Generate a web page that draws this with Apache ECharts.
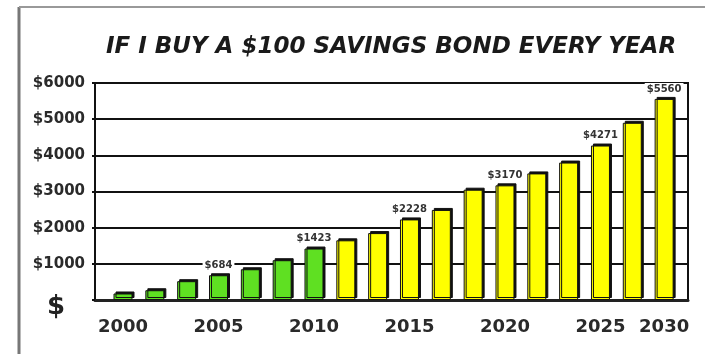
<!DOCTYPE html>
<html>
<head>
<meta charset="utf-8">
<script src="https://cdn.jsdelivr.net/npm/echarts@6/dist/echarts.min.js"></script>
<style>
html,body{margin:0;padding:0;background:#fff;}
#chart{width:712px;height:354px;}
</style>
</head>
<body>
<div id="chart"></div>
<script>
// Data
const titleText = 'IF I BUY A $100 SAVINGS BOND EVERY YEAR';
const barValues = [180, 270, 520, 684, 850, 1100, 1423, 1650, 1850, 2228, 2490, 3050, 3170, 3500, 3800, 4271, 4900, 5560];
const greenCount = 7;
const tickIndex = [0, 3, 6, 9, 12, 15, 17];
const tickLabels = ['2000', '2005', '2010', '2015', '2020', '2025', '2030'];
const labeledIndex = [3, 6, 9, 12, 15, 17];

const GREEN = '#5fe022';
const YELLOW = '#ffff00';

const chart = echarts.init(document.getElementById('chart'));

const seriesData = barValues.map(function (v, i) {
  const item = {
    value: [i, v],
    itemStyle: { color: i < greenCount ? GREEN : YELLOW }
  };
  if (labeledIndex.indexOf(i) >= 0) {
    item.label = { show: true };
  }
  return item;
});

chart.setOption({
  backgroundColor: '#fff',
  animation: false,
  title: {
    text: titleText,
    left: 386,
    top: 31,
    textAlign: 'center',
    textStyle: {
      fontFamily: 'DejaVu Sans',
      fontStyle: 'italic',
      fontWeight: 'bold',
      fontSize: 23,
      color: '#1a1a1a'
    }
  },
  graphic: [
    { type: 'line', shape: { x1: 19, y1: 7, x2: 19, y2: 354 }, style: { stroke: '#777', lineWidth: 3 } },
    { type: 'line', shape: { x1: 19, y1: 7, x2: 705, y2: 7 }, style: { stroke: '#999', lineWidth: 2 } }
  ],
  grid: {
    left: 95, right: 24, top: 83, bottom: 54,
    show: true, borderColor: '#111', borderWidth: 2, backgroundColor: 'transparent'
  },
  xAxis: {
    type: 'value',
    min: -0.88,
    max: 17.75,
    splitLine: { show: false },
    axisTick: { show: false },
    axisLine: { show: true, onZero: false, lineStyle: { color: '#222', width: 3 } },
    axisLabel: {
      customValues: tickIndex,
      formatter: function (v) {
        const k = tickIndex.indexOf(Math.round(v));
        return k >= 0 ? tickLabels[k] : '';
      },
      margin: 18,
      fontFamily: 'DejaVu Sans',
      fontWeight: 'bold',
      fontSize: 18,
      color: '#2a2a2a'
    }
  },
  yAxis: {
    type: 'value',
    min: 0,
    max: 6000,
    interval: 1000,
    splitLine: { show: true, lineStyle: { color: '#111', width: 2 } },
    axisLine: { show: true, onZero: false, lineStyle: { color: '#111', width: 2 } },
    axisTick: { show: true, length: 3, lineStyle: { color: '#111', width: 2 } },
    axisLabel: {
      margin: 10,
      formatter: function (v) {
        return v === 0 ? '{d|$}' : '$' + v;
      },
      rich: {
        d: { fontFamily: 'DejaVu Sans', fontWeight: 'bold', fontSize: 26, color: '#222', padding: [14, 20, 0, 0] }
      },
      fontFamily: 'DejaVu Sans',
      fontWeight: 'bold',
      fontSize: 15,
      color: '#2a2a2a'
    }
  },
  series: [{
    type: 'bar',
    barWidth: 19,
    data: seriesData,
    itemStyle: {
      borderColor: '#111',
      borderWidth: 1,
      shadowColor: '#111',
      shadowOffsetX: 2,
      shadowOffsetY: -2,
      shadowBlur: 0
    },
    label: {
      show: false,
      position: 'top',
      distance: 4,
      formatter: function (p) { return '$' + p.value[1]; },
      fontFamily: 'DejaVu Sans',
      fontWeight: 'bold',
      fontSize: 10,
      color: '#333',
      backgroundColor: '#fff',
      padding: [1, 2]
    }
  }]
});
</script>
</body>
</html>
